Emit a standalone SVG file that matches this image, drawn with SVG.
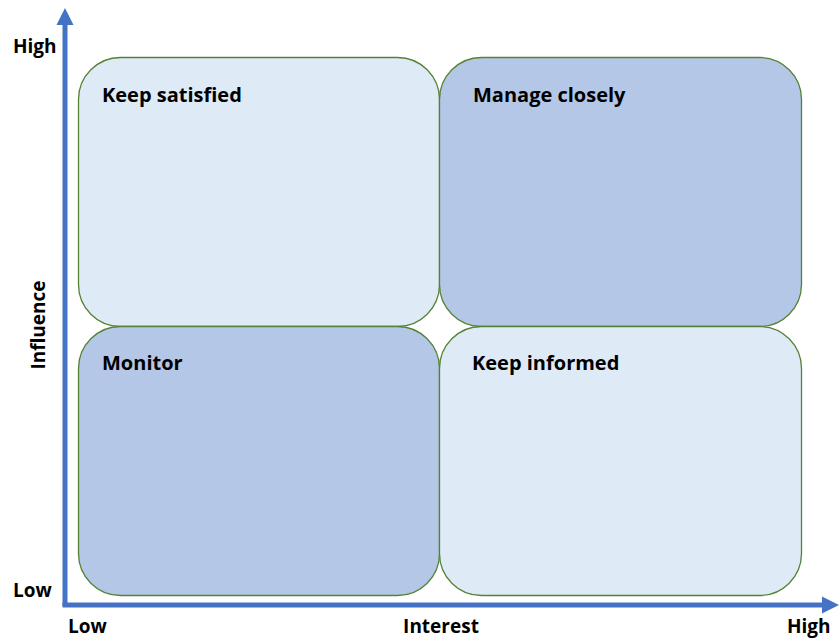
<svg xmlns="http://www.w3.org/2000/svg" width="839" height="639" viewBox="0 0 839 639">
<style>
.box{stroke:#548235;stroke-width:1.3}
.light{fill:#DEEBF7}
.dark{fill:#B4C7E7}
text{font-family:"Open Sans","Liberation Sans",sans-serif;font-weight:bold;fill:#000}
.lbl{font-size:20px}
.ax{font-size:19px}
.axis{stroke:#4472C4;stroke-width:5;fill:none}
</style>
<defs>
<marker id="ah" markerWidth="4" markerHeight="4" refX="2" refY="2" orient="auto" markerUnits="strokeWidth">
<path d="M0,0.3 L3.4,2 L0,3.7 Z" fill="#4472C4"/>
</marker>
</defs>
<g id="keep-satisfied"><rect class="box light" x="78.5" y="57.5" width="361" height="269" rx="42"/><text class="lbl" x="102" y="102">Keep satisfied</text></g>
<g id="manage-closely"><rect class="box dark" x="439.5" y="57.5" width="362" height="269" rx="42"/><text class="lbl" x="473" y="102">Manage closely</text></g>
<g id="monitor"><rect class="box dark" x="78.5" y="326.5" width="361" height="269" rx="42"/><text class="lbl" x="102" y="370">Monitor</text></g>
<g id="keep-informed"><rect class="box light" x="439.5" y="326.5" width="362" height="269" rx="42"/><text class="lbl" x="472" y="370">Keep informed</text></g>
<g id="connectors">
<path class="axis" d="M65,606 V15" marker-end="url(#ah)"/>
<path class="axis" d="M62.5,605 H832" marker-end="url(#ah)"/>
</g>
<g id="axis-labels">
<text class="ax" x="13" y="53">High</text>
<text class="ax" x="13" y="597">Low</text>
<text class="ax" x="68" y="633">Low</text>
<text class="ax" x="441" y="633" text-anchor="middle">Interest</text>
<text class="ax" x="787" y="633">High</text>
<text class="ax" transform="translate(45,325) rotate(-90)" text-anchor="middle">Influence</text>
</g>
</svg>
